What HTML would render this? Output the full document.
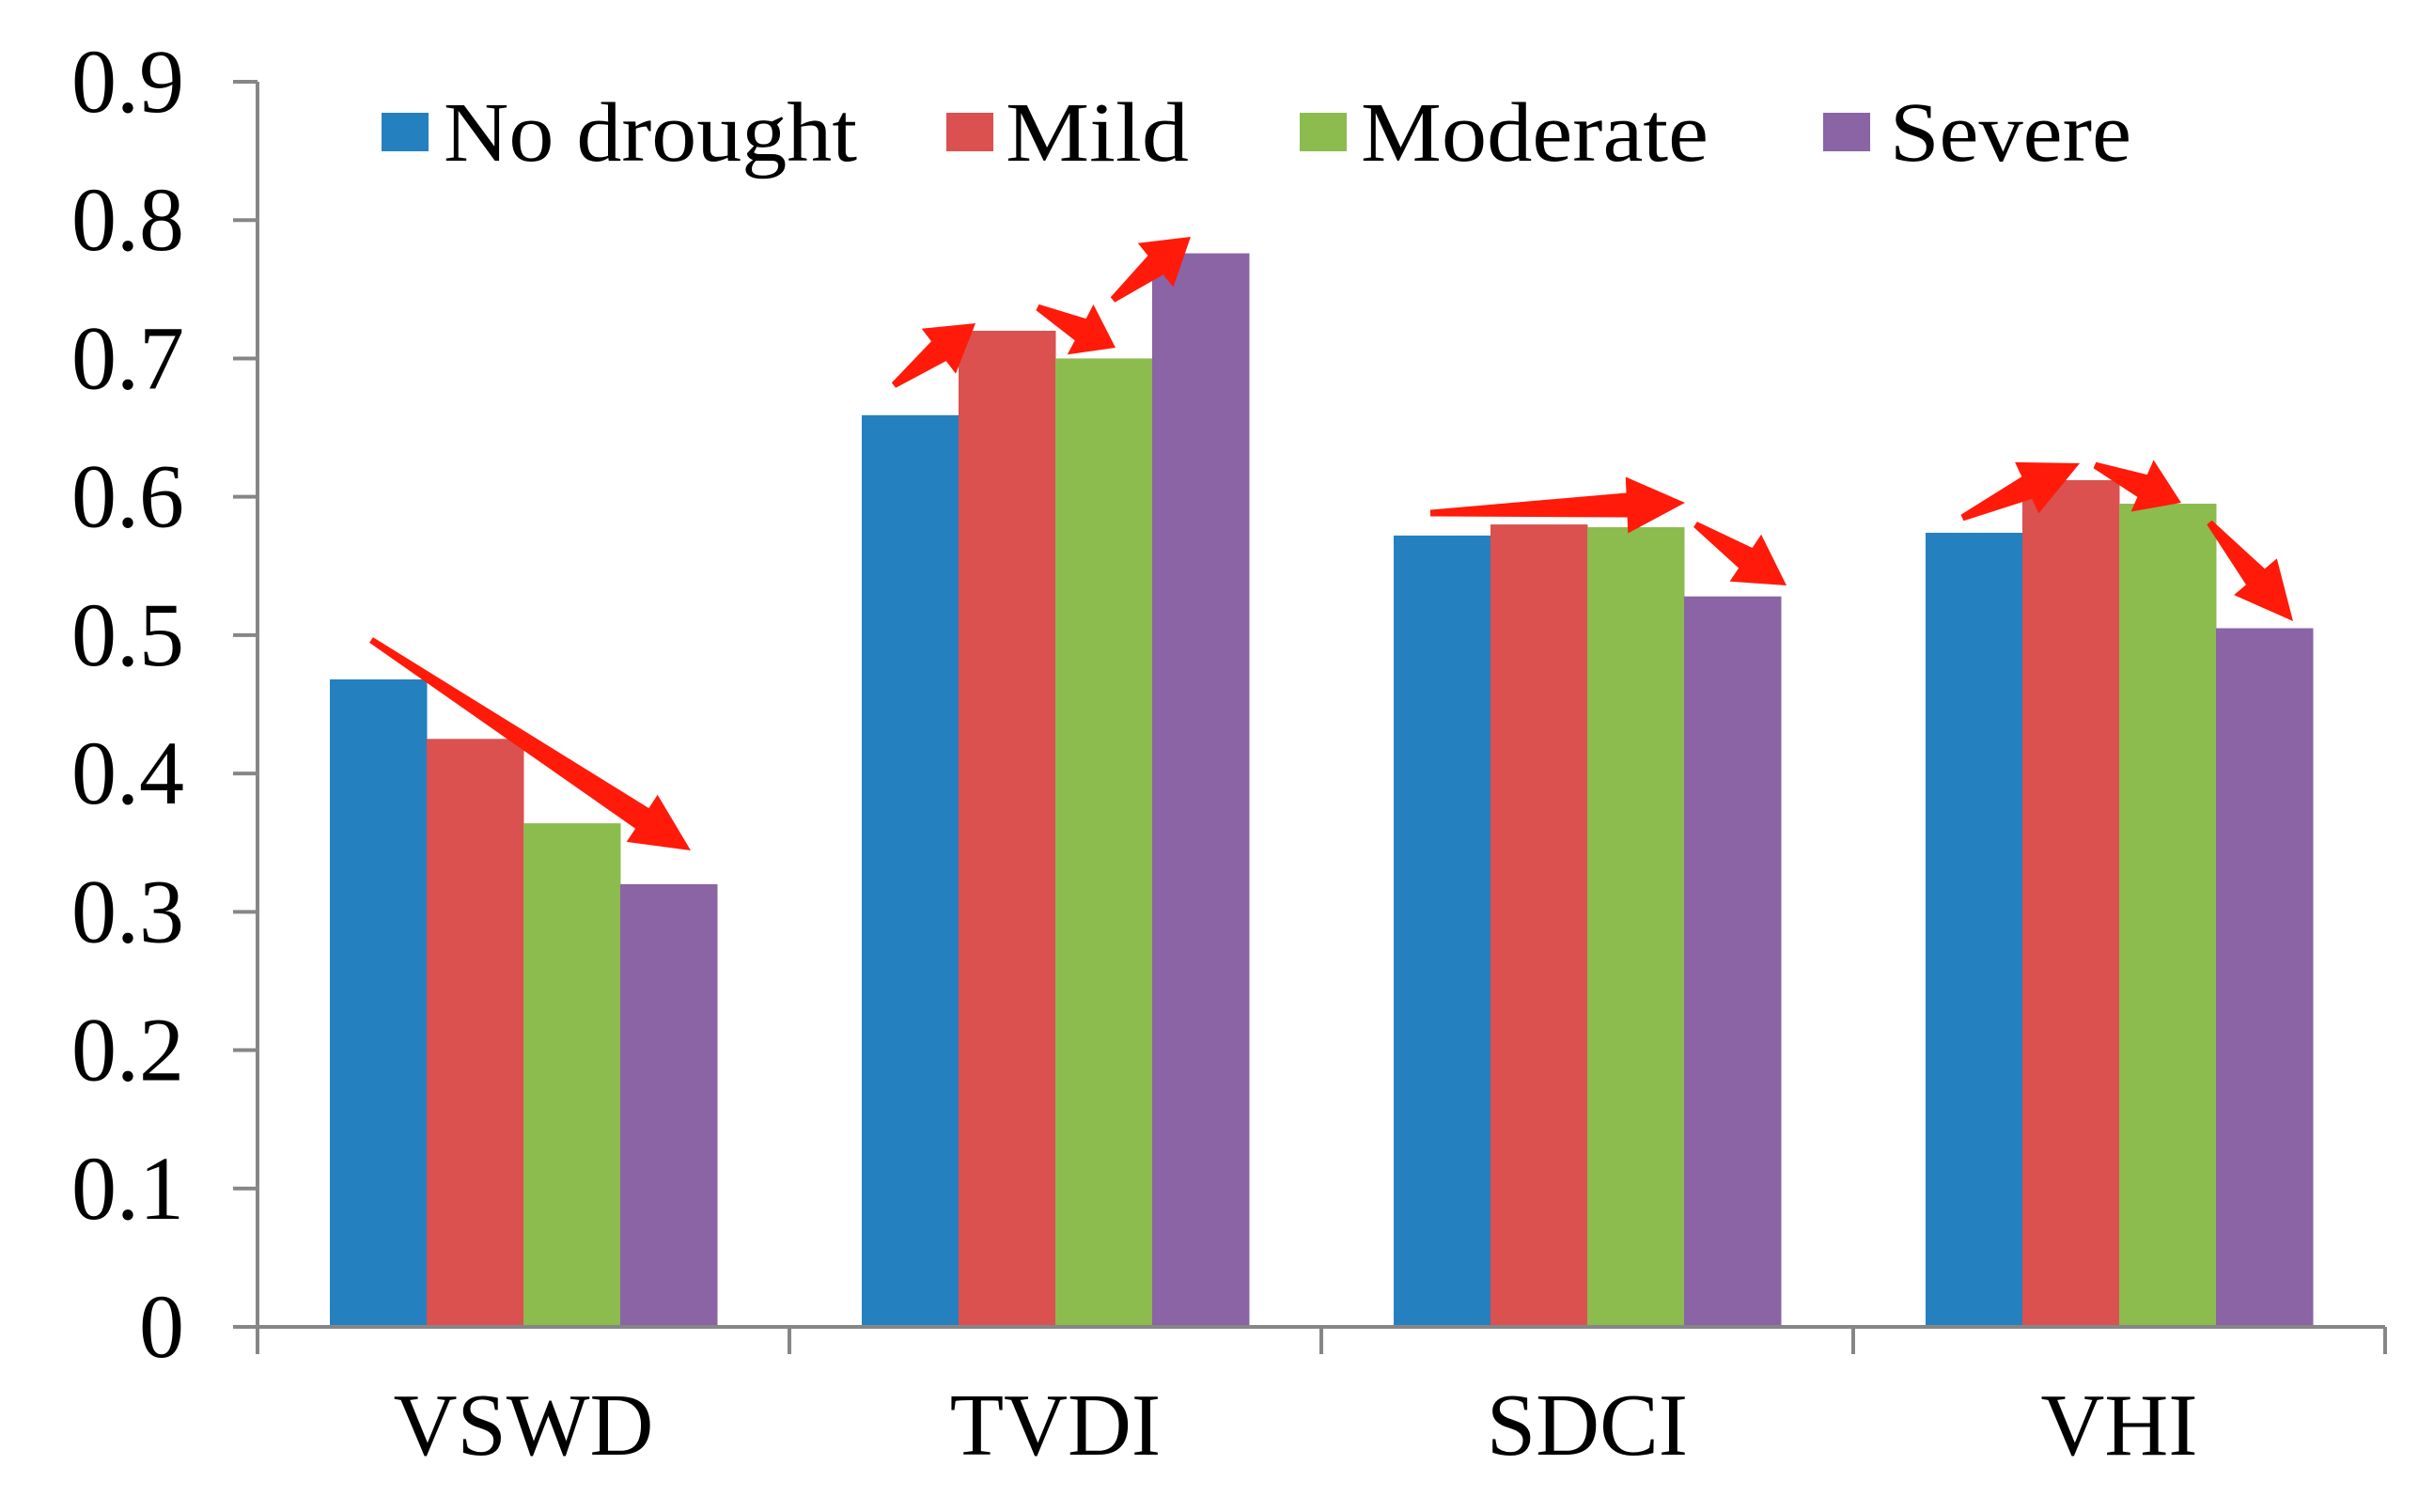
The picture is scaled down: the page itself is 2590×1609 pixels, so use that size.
<!DOCTYPE html>
<html><head><meta charset="utf-8"><style>
html,body{margin:0;padding:0;background:#fff;}
svg{display:block;}
text{font-family:"Liberation Serif","Times New Roman",serif;fill:#000;}
</style></head><body>
<svg id="chart" width="2590" height="1609" viewBox="0 0 2590 1609" xmlns="http://www.w3.org/2000/svg">
<g id="bars"></g>
<g id="axes"></g>
<g id="legend"></g>
<g id="arrows"></g>
</svg>
<script>
const categories = ["VSWD", "TVDI", "SDCI", "VHI"];
const seriesNames = ["No drought", "Mild", "Moderate", "Severe"];
const noDrought = [0.468, 0.659, 0.572, 0.574];
const mild = [0.425, 0.720, 0.580, 0.612];
const moderate = [0.364, 0.700, 0.578, 0.595];
const severe = [0.320, 0.776, 0.528, 0.505];
const yTicks = ["0", "0.1", "0.2", "0.3", "0.4", "0.5", "0.6", "0.7", "0.8", "0.9"];

const NS = "http://www.w3.org/2000/svg";
const colors = ["#2580BF", "#DA514F", "#8CBB4E", "#8A64A5"];
const series = [noDrought, mild, moderate, severe];
const x0 = 274, x1 = 2538, yZero = 1412, yTop = 87, yMax = 0.9;
const catW = (x1 - x0) / categories.length;
const barW = 103;
function yScale(v){ return yZero - (v / yMax) * (yZero - yTop); }
function xCat(i){ return x0 + i * catW; }
function mk(tag, attrs, parent){ const e = document.createElementNS(NS, tag); for (const k in attrs) e.setAttribute(k, attrs[k]); parent.appendChild(e); return e; }

const gb = document.getElementById("bars");
series.forEach((vals, s) => {
  vals.forEach((v, i) => {
    const gx = xCat(i) + (catW - 4 * barW) / 2 + s * barW;
    const r = mk("rect", {x: gx, y: yScale(v), width: barW + 0.5, height: yZero - yScale(v), fill: colors[s]}, gb);
    
    
  });
});

const ga = document.getElementById("axes");
const ya = mk("line", {x1: x0, y1: yTop, x2: x0, y2: yZero, stroke: "#868686", "stroke-width": 4}, ga);


const xa = mk("line", {x1: 248, y1: yZero, x2: x1, y2: yZero, stroke: "#868686", "stroke-width": 4}, ga);


yTicks.forEach((t, i) => {
  const v = parseFloat(t);
  const y = yScale(v);
  const tk = mk("line", {x1: 248, y1: y, x2: x0, y2: y, stroke: "#868686", "stroke-width": 4}, ga);
  
  
  const tx = mk("text", {x: 196, y: y + 32, "text-anchor": "end", "font-size": 96}, ga);
  tx.textContent = t;
  
  
});
for (let i = 0; i <= categories.length; i++) {
  const tk = mk("line", {x1: xCat(i), y1: yZero, x2: xCat(i), y2: 1441, stroke: "#868686", "stroke-width": 4}, ga);
  
  
}
categories.forEach((c, i) => {
  const tx = mk("text", {x: xCat(i) + catW / 2, y: 1548, "text-anchor": "middle", "font-size": 94}, ga);
  tx.textContent = c;
  
  
});

const gl = document.getElementById("legend");
const legSq = [406, 1007, 1383, 1940];
const legTx = [472, 1070, 1448, 2011];
const legW = [440, 195, 370, 257];
seriesNames.forEach((n, s) => {
  const sq = mk("rect", {x: legSq[s], y: 120, width: 50, height: 41, fill: colors[s]}, gl);
  
  
  const tx = mk("text", {x: legTx[s], y: 171, "font-size": 90, textLength: legW[s], lengthAdjust: "spacingAndGlyphs"}, gl);
  tx.textContent = n;
  
  
});

const gr = document.getElementById("arrows");
const arrowList = [
  [395,681,735,905],
  [951,410,1038,344],[1104,327,1187,370],[1184,319,1267,252],
  [1522,546,1793,535],[1804,558,1901,623],
  [2088,551,2213,493],[2229,495,2321,535],[2351,556,2440,661]
];
arrowList.forEach(a => {
  const [sx, sy, ex, ey] = a;
  const dx = ex - sx, dy = ey - sy, L = Math.hypot(dx, dy);
  const ux = dx / L, uy = dy / L, px = -uy, py = ux;
  const hl = Math.min(62, L * 0.45), tw = 3.5, sw = 13, hw = 30;
  const bx = ex - ux * hl, by = ey - uy * hl;
  const pts = [
    [sx + px * tw, sy + py * tw], [bx + px * sw, by + py * sw], [bx + px * hw, by + py * hw],
    [ex, ey], [bx - px * hw, by - py * hw], [bx - px * sw, by - py * sw], [sx - px * tw, sy - py * tw]
  ].map(p => p[0].toFixed(1) + "," + p[1].toFixed(1)).join(" ");
  const p = mk("polygon", {points: pts, fill: "#FF1A0A"}, gr);
  
  
});
</script>
</body></html>
